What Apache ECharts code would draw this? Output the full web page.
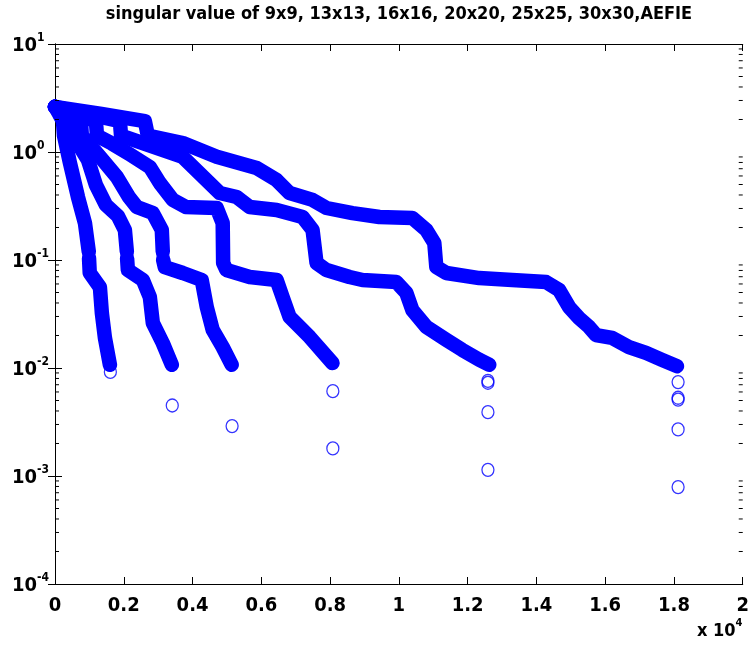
<!DOCTYPE html>
<html>
<head>
<meta charset="utf-8">
<script src="https://cdn.jsdelivr.net/npm/echarts@6/dist/echarts.min.js"></script>
<style>
  html, body { margin: 0; padding: 0; background: #fff; }
  #chart { width: 752px; height: 652px; }
</style>
</head>
<body>
<div id="chart"></div>
<script>
// Singular values (index, value) of the AEFIE matrix for each mesh size.
// A null value marks a short break in the dense run of values.
const sv9x9 = [[0,2.62],[120,2.25],[232,1.93],[261,1.42],[435,0.79],[668,0.383],[871,0.22],[982,0.12],[986,null],[990,0.103],[1010,0.076],[1306,0.056],[1364,0.032],[1452,0.019],[1597,0.0107]];
const sv13x13 = [[0,2.62],[250,2.25],[494,1.93],[520,1.42],[958,0.843],[1190,0.495],[1481,0.323],[1829,0.2555],[2032,0.19],[2089,0.12],[2093,null],[2097,0.103],[2119,0.0807],[2555,0.0653],[2758,0.0454],[2845,0.0261],[3135,0.017],[3397,0.0107]];
const sv16x16 = [[0,2.62],[380,2.25],[755,1.93],[780,1.42],[1250,0.95],[1800,0.587],[2150,0.383],[2380,0.31],[2845,0.272],[3106,0.19],[3134,0.12],[3140,null],[3146,0.1],[3193,0.0861],[3716,0.0758],[4267,0.0653],[4413,0.0367],[4587,0.0225],[4877,0.0156],[5138,0.0107]];
const sv20x20 = [[0,2.62],[600,2.25],[1190,1.93],[1220,1.42],[1650,1.2],[2177,0.95],[2758,0.726],[3048,0.516],[3426,0.36],[3800,0.31],[4703,0.303],[4877,0.22],[4890,0.0938],[4985,0.0807],[5661,0.0696],[6445,0.0653],[6619,0.0454],[6822,0.0297],[7403,0.0194],[8070,0.0111]];
const sv25x25 = [[0,2.62],[940,2.25],[1887,1.93],[1920,1.42],[3716,0.9],[4790,0.417],[5283,0.383],[5661,0.31],[6445,0.29],[7199,0.25],[7490,0.19],[7606,0.0938],[7896,0.0807],[8564,0.0696],[8941,0.0653],[9928,0.0625],[10218,0.0495],[10393,0.0344],[10799,0.024],[11380,0.0182],[11844,0.0147],[12338,0.0119],[12628,0.0107]];
const sv30x30 = [[0,2.62],[1350,2.25],[2613,1.93],[2700,1.42],[3716,1.21],[4703,0.905],[5864,0.71],[6445,0.55],[6822,0.417],[7490,0.36],[7896,0.303],[8651,0.272],[9435,0.25],[10393,0.245],[10799,0.19],[11031,0.1436],[11089,0.0861],[11380,0.0758],[12338,0.068],[13296,0.0653],[14283,0.0625],[14660,0.0527],[14950,0.0367],[15241,0.029],[15531,0.024],[15734,0.0202],[16199,0.019],[16692,0.0156],[17187,0.0138],[17651,0.0119],[18086,0.0104]];

// Isolated values: the one inside each break, and the smallest ones below the band.
const tail9x9 = [[986,0.111],[1610,0.0092]];
const tail13x13 = [[2093,0.111],[3410,0.0045]];
const tail16x16 = [[3140,0.109],[5150,0.0029]];
const tail20x20 = [[8080,0.0061],[8080,0.0018]];
const tail25x25 = [[12590,0.0076],[12590,0.0073],[12590,0.0039],[12590,0.00114]];
const tail30x30 = [[18120,0.0074],[18120,0.0053],[18120,0.0051],[18120,0.0027],[18120,0.00079]];

// Axis ticks
const xTicks = [0, 2000, 4000, 6000, 8000, 10000, 12000, 14000, 16000, 18000, 20000];
const yMinorTicks = [];
for (let e = -4; e < 1; e++) {
  for (let m = 2; m <= 9; m++) yMinorTicks.push([0, m * Math.pow(10, e)]);
}

const TITLE = 'singular value of 9x9, 13x13, 16x16, 20x20, 25x25, 30x30,AEFIE';
const BLUE = '#0000ff';
const FONT = '"DejaVu Sans Condensed", "Liberation Sans", sans-serif';

const bands = [sv9x9, sv13x13, sv16x16, sv20x20, sv25x25, sv30x30];
const tails = [tail9x9, tail13x13, tail16x16, tail20x20, tail25x25, tail30x30];

const series = [];
bands.forEach(function (d) {
  series.push({
    type: 'line', data: d, showSymbol: false, silent: true, connectNulls: false,
    lineStyle: { color: BLUE, width: 14.5, cap: 'round', join: 'round' },
    z: 3
  });
});
tails.forEach(function (d) {
  series.push({
    type: 'scatter', data: d, symbol: 'circle', symbolSize: [12, 13], silent: true,
    itemStyle: { color: 'rgba(0,0,0,0)', borderColor: BLUE, borderWidth: 1.3 },
    z: 4
  });
});
// log minor ticks drawn inside the left and right frame
series.push({
  type: 'custom', data: yMinorTicks, silent: true, clip: false, z: 5,
  renderItem: function (params, api) {
    const v = api.value(1);
    const l = api.coord([xTicks[0], v]);
    const r = api.coord([xTicks[xTicks.length - 1], v]);
    return {
      type: 'group',
      children: [
        { type: 'line', shape: { x1: l[0], y1: l[1], x2: l[0] + 4, y2: l[1] }, style: { stroke: '#000', lineWidth: 1 } },
        { type: 'line', shape: { x1: r[0] - 4, y1: r[1], x2: r[0], y2: r[1] }, style: { stroke: '#000', lineWidth: 1 } }
      ]
    };
  }
});

const expLabel = function (v) {
  const e = Math.round(Math.log10(v));
  return '{b|10}{e|' + e + '}';
};
const expRich = {
  b: { fontFamily: FONT, fontWeight: 'bold', fontSize: 20, color: '#000', lineHeight: 24, verticalAlign: 'bottom' },
  e: { fontFamily: FONT, fontWeight: 'bold', fontSize: 12, color: '#000', lineHeight: 12, verticalAlign: 'top' }
};

const axisLineStyle = { show: true, lineStyle: { color: '#000', width: 1 } };

const chart = echarts.init(document.getElementById('chart'), null, { renderer: 'canvas' });
chart.setOption({
  animation: false,
  backgroundColor: '#fff',
  grid: { left: 55, right: 8, top: 44, bottom: 68, show: false },
  xAxis: [{
    type: 'value', min: 0, max: 20000, interval: 2000, position: 'bottom',
    axisLine: axisLineStyle,
    axisTick: { show: true, inside: true, length: 7, lineStyle: { color: '#000' } },
    splitLine: { show: false },
    axisLabel: {
      margin: 12, fontFamily: FONT, fontWeight: 'bold', fontSize: 20, color: '#000',
      formatter: function (v) { return String(v / 10000); }
    }
  }, {
    type: 'value', min: 0, max: 20000, interval: 2000, position: 'top',
    axisLine: axisLineStyle,
    axisTick: { show: true, inside: true, length: 7, lineStyle: { color: '#000' } },
    splitLine: { show: false }, axisLabel: { show: false }
  }],
  yAxis: [{
    type: 'log', logBase: 10, min: 1e-4, max: 10, position: 'left',
    axisLine: axisLineStyle,
    axisTick: { show: true, inside: true, length: 7, lineStyle: { color: '#000' } },
    splitLine: { show: false },
    axisLabel: { margin: 43, align: 'left', formatter: expLabel, rich: expRich }
  }, {
    type: 'log', logBase: 10, min: 1e-4, max: 10, position: 'right',
    axisLine: axisLineStyle,
    axisTick: { show: true, inside: true, length: 7, lineStyle: { color: '#000' } },
    splitLine: { show: false }, axisLabel: { show: false }
  }],
  graphic: [{
    // title centred over the plot box
    type: 'text', x: 399, y: 5,
    style: {
      text: TITLE, align: 'center', verticalAlign: 'top',
      font: 'bold 18px ' + FONT, fill: '#000'
    }
  }, {
    type: 'text', left: 697, top: 618,
    style: {
      text: '{b|x 10}{e|4}',
      rich: {
        b: { fontFamily: FONT, fontWeight: 'bold', fontSize: 18, fill: '#000', lineHeight: 22, verticalAlign: 'bottom' },
        e: { fontFamily: FONT, fontWeight: 'bold', fontSize: 11, fill: '#000', lineHeight: 11, verticalAlign: 'top' }
      }
    }
  }],
  series: series
});
</script>
</body>
</html>
